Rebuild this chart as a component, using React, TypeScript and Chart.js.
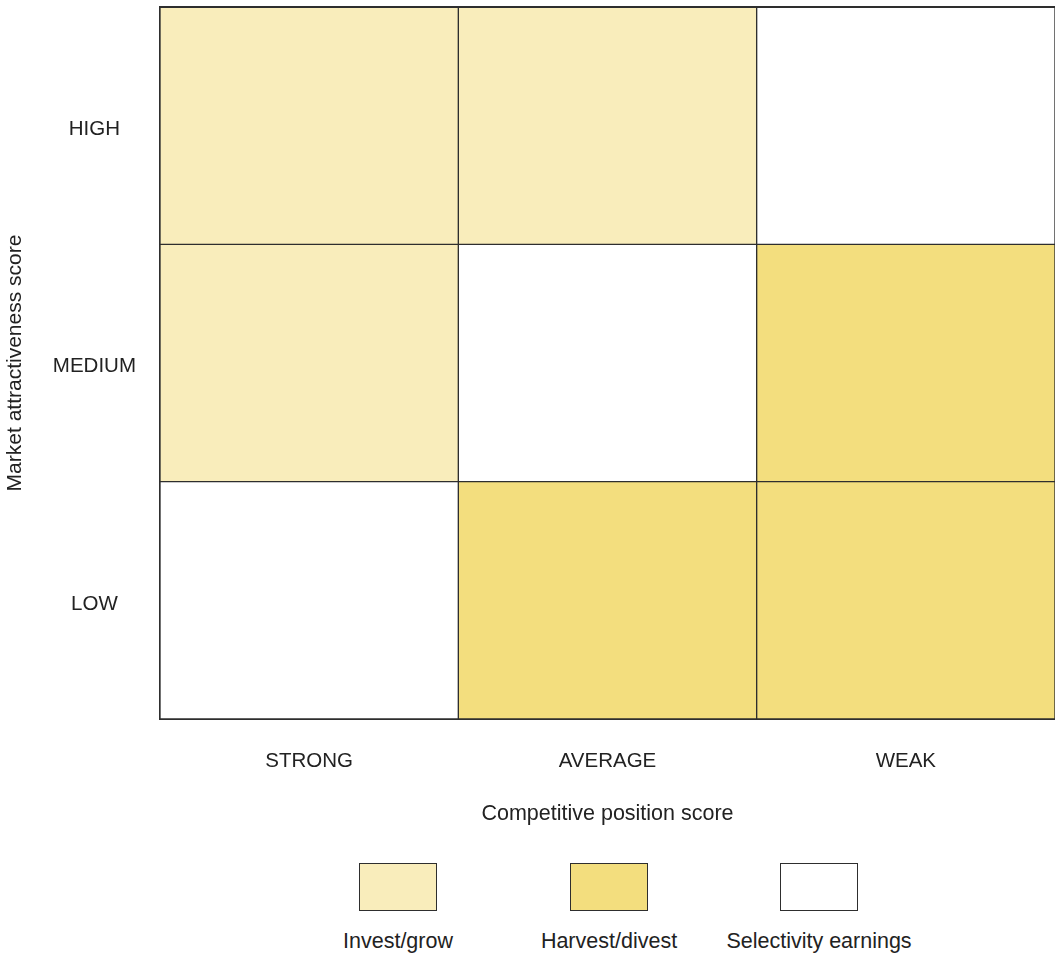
import React, { useEffect, useRef } from "react";
import { Chart, registerables } from "chart.js";

Chart.register(...registerables);

// ---- Data ----
const columns = ["STRONG", "AVERAGE", "WEAK"]; // competitive position (x)
const rows = ["LOW", "MEDIUM", "HIGH"]; // market attractiveness (y, bottom→top)
const cellHeights = [1, 1, 1]; // every cell spans one unit of the score axis
const zonesLow = ["select", "harvest", "harvest"];
const zonesMedium = ["invest", "select", "harvest"];
const zonesHigh = ["invest", "invest", "select"];
const legendKeys = ["invest", "harvest", "select"];
const legendLabels = ["Invest/grow", "Harvest/divest", "Selectivity earnings"];
const xTitle = "Competitive position score";
const yTitle = "Market attractiveness score";

// ---- Styles ----
const zoneColors: Record<string, string> = {
  invest: "#F9EDBB",
  harvest: "#F3DE7E",
  select: "#FFFFFF",
};
const lineColor = "#2E2E2E";
const textColor = "#222222";
const fontFamily = "'Liberation Sans', Arial, Helvetica, sans-serif";
const labelSize = 20.5;
const titleSize = 21.5;
const rowLabelNudge = 0.015; // small downward nudge of row labels (style)

const topBorder = {
  id: "topBorder",
  afterDatasetsDraw(chart: any) {
    const { ctx, chartArea } = chart;
    ctx.save();
    ctx.strokeStyle = lineColor;
    ctx.lineWidth = 2;
    ctx.beginPath();
    ctx.moveTo(chartArea.left - 1, chartArea.top);
    ctx.lineTo(chartArea.right, chartArea.top);
    ctx.stroke();
    ctx.restore();
  },
};

export default function App() {
  const canvasRef = useRef<HTMLCanvasElement | null>(null);

  useEffect(() => {
    if (!canvasRef.current) return;
    const zoneRows = [zonesLow, zonesMedium, zonesHigh];
    const chart = new Chart(canvasRef.current, {
      type: "bar",
      data: {
        labels: columns,
        datasets: rows.map((r, i) => ({
          label: r,
          data: cellHeights.slice(),
          backgroundColor: zoneRows[i].map((z) => zoneColors[z]),
          borderColor: lineColor,
          borderWidth: 1,
          borderSkipped: false as any,
          categoryPercentage: 1,
          barPercentage: 1,
        })),
      },
      plugins: [topBorder],
      options: {
        animation: false,
        responsive: true,
        maintainAspectRatio: false,
        layout: { padding: { top: 7, right: 0, left: 0, bottom: 0 } },
        plugins: {
          legend: { display: false },
          tooltip: { enabled: false },
        },
        events: [],
        scales: {
          x: {
            type: "category",
            stacked: true,
            offset: true,
            grid: { display: false, drawTicks: false },
            border: { display: true, color: lineColor, width: 2 },
            ticks: {
              padding: 30,
              color: textColor,
              font: { family: fontFamily, size: labelSize },
              maxRotation: 0,
            },
            title: {
              display: true,
              text: xTitle,
              color: textColor,
              font: { family: fontFamily, size: titleSize },
              padding: { top: 0, bottom: 13 },
            },
            afterFit: (scale: any) => {
              scale.height = 121;
              scale.paddingLeft = 0;
              scale.paddingRight = 0;
            },
          },
          y: {
            type: "linear",
            stacked: true,
            min: 0,
            max: rows.length,
            grid: { display: false, drawTicks: false },
            border: { display: true, color: lineColor, width: 2 },
            afterBuildTicks: (scale: any) => {
              scale.ticks = rows.map((_, i) => ({ value: i + 0.5 - rowLabelNudge }));
            },
            ticks: {
              padding: 24,
              crossAlign: "center",
              color: textColor,
              font: { family: fontFamily, size: labelSize },
              callback: (v: any) => rows[Math.floor(Number(v))],
            },
            title: {
              display: true,
              text: yTitle,
              color: textColor,
              font: { family: fontFamily, size: 21 },
              padding: { top: 3, bottom: 0 },
            },
            afterFit: (scale: any) => {
              scale.width = 160;
              scale.paddingTop = 0;
              scale.paddingBottom = 0;
            },
          },
        },
      },
    });
    return () => chart.destroy();
  }, []);

  const boxLefts = [359, 570, 780];

  return (
    <div
      style={{
        position: "absolute",
        left: 0,
        top: 0,
        width: 1055,
        height: 953,
        background: "#fff",
        fontFamily,
        color: textColor,
      }}
    >
      <div style={{ position: "absolute", left: 0, top: 0, width: 1055, height: 840 }}>
        <canvas ref={canvasRef} />
      </div>
      {legendKeys.map((k, i) => (
        <React.Fragment key={k}>
          <div
            style={{
              position: "absolute",
              left: boxLefts[i],
              top: 863,
              width: 78,
              height: 48,
              boxSizing: "border-box",
              border: `1.5px solid ${lineColor}`,
              background: zoneColors[k],
            }}
          />
          <div
            style={{
              position: "absolute",
              left: boxLefts[i] + 39 - 130,
              width: 260,
              top: 929,
              lineHeight: "24px",
              fontSize: titleSize,
              textAlign: "center",
              whiteSpace: "nowrap",
            }}
          >
            {legendLabels[i]}
          </div>
        </React.Fragment>
      ))}
    </div>
  );
}
